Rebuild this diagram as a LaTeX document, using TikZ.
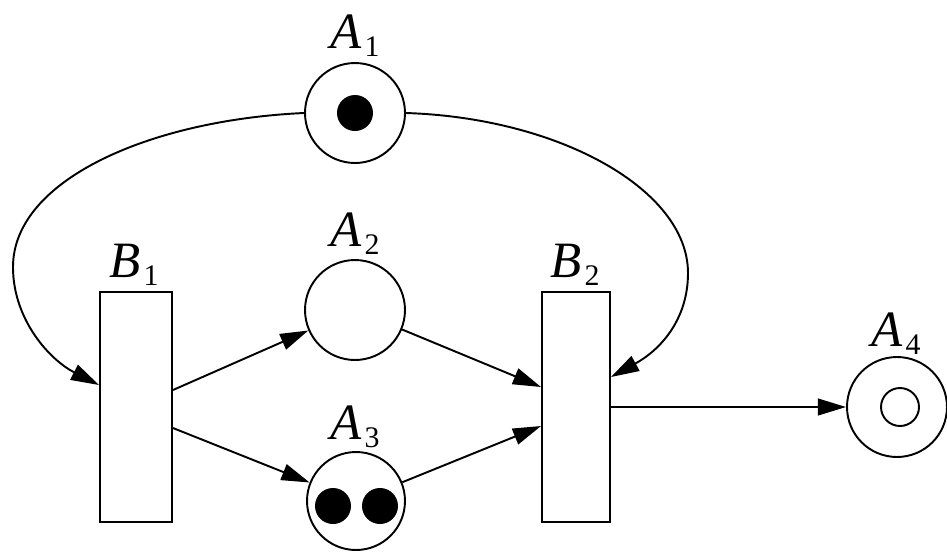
\documentclass[tikz,border=0pt]{standalone}
\usepackage{fontspec}
\setmainfont{Liberation Serif}
\usetikzlibrary{arrows.meta,calc}
\newcommand{\plab}[2]{{\itshape #1}\kern0.06em\raisebox{-0.16em}{\fontsize{17}{18}\selectfont #2}}
\begin{document}
\begin{tikzpicture}[x=0.02cm,y=-0.02cm,
  place/.style={circle,draw,line width=1.1pt,minimum size=2cm,inner sep=0pt},
  trans/.style={rectangle,draw,line width=1.1pt,minimum width=1.44cm,minimum height=4.6cm,inner sep=0pt},
  token/.style={circle,fill=black,minimum size=0.72cm,inner sep=0pt},
  lbl/.style={anchor=base,font=\fontsize{29}{31}\selectfont,inner sep=0pt},
  arc/.style={line width=1.1pt,-{Triangle[length=16pt,width=9.5pt]}}]
\useasboundingbox (0,0) rectangle (947,552);
% places
\node[place] (A1) at (355,113) {};
\node[token] (t1) at (A1) {};
\node[lbl] (lA1) at (355,48) {\plab{A}{1}};
\node[place] (A2) at (355,310) {};
\node[lbl] (lA2) at (355,246) {\plab{A}{2}};
\node[place,minimum size=1.96cm] (A3) at (356,501) {};
\node[token] (t3a) at (333,506) {};
\node[token] (t3b) at (380,506) {};
\node[lbl] (lA3) at (355,439) {\plab{A}{3}};
\node[place] (A4) at (897,407) {};
\node[circle,draw,line width=1.1pt,minimum size=0.76cm,inner sep=0pt] (A4i) at (900,407) {};
\node[lbl] (lA4) at (896,346) {\plab{A}{4}};
% transitions
\node[trans] (B1) at (136,407) {};
\node[lbl] (lB1) at (134,277) {\plab{B}{1}};
\node[trans,minimum width=1.36cm] (B2) at (576,407) {};
\node[lbl] (lB2) at (575,277) {\plab{B}{2}};
% arcs
\draw[arc] (A1.west) .. controls (150,120) and (13,180) .. (13,267)
  .. controls (13,320) and (50,360) .. ([yshift=0.44cm]B1.west);
\draw[arc] (A1.east) .. controls (560,118) and (688,190) .. (688,273)
  .. controls (688,320) and (660,350) .. ([yshift=0.6cm]B2.east);
\draw[arc] ([yshift=0.34cm]B1.east) -- (A2);
\draw[arc] ([yshift=-0.42cm]B1.east) -- (A3);
\draw[arc] (A2) -- ([yshift=0.4cm]B2.west);
\draw[arc] (A3) -- ([yshift=-0.38cm]B2.west);
\draw[arc] (B2.east) -- (A4.west);
\end{tikzpicture}
\end{document}
